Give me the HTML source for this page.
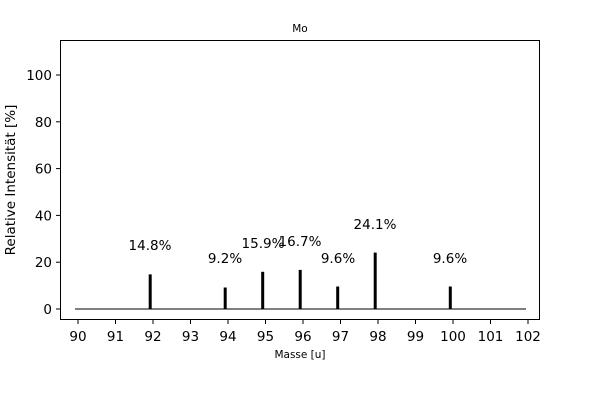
<!DOCTYPE html>
<html><head><meta charset="utf-8"><style>body{margin:0;background:#fff}</style></head><body>
<svg width="600" height="400" xmlns="http://www.w3.org/2000/svg" font-family="DejaVu Sans, Liberation Sans, sans-serif">
<rect width="600" height="400" fill="#fff"/>
<text x="300" y="32" font-size="10.5" text-anchor="middle">Mo</text>
<line x1="75" y1="309" x2="526" y2="309" stroke="#000" stroke-width="1"/>
<g stroke="#000" stroke-width="3">
<line x1="150.2" y1="309" x2="150.2" y2="274.4"/>
<line x1="225.2" y1="309" x2="225.2" y2="287.5"/>
<line x1="262.7" y1="309" x2="262.7" y2="271.8"/>
<line x1="300.2" y1="309" x2="300.2" y2="269.9"/>
<line x1="337.7" y1="309" x2="337.7" y2="286.5"/>
<line x1="375.2" y1="309" x2="375.2" y2="252.6"/>
<line x1="450.3" y1="309" x2="450.3" y2="286.5"/>
</g>
<g font-size="13.5" text-anchor="middle">
<text x="150" y="250">14.8%</text>
<text x="225" y="263">9.2%</text>
<text x="263" y="248">15.9%</text>
<text x="300" y="246">16.7%</text>
<text x="338" y="263">9.6%</text>
<text x="375" y="229">24.1%</text>
<text x="450" y="263">9.6%</text>
</g>
<rect x="60.5" y="40.5" width="479" height="279" fill="none" stroke="#000" stroke-width="1"/>
<g stroke="#000">
<line x1="78" y1="320" x2="78" y2="324"/><line x1="115.5" y1="320" x2="115.5" y2="324"/><line x1="153" y1="320" x2="153" y2="324"/><line x1="190.5" y1="320" x2="190.5" y2="324"/><line x1="228" y1="320" x2="228" y2="324"/><line x1="265.5" y1="320" x2="265.5" y2="324"/><line x1="303" y1="320" x2="303" y2="324"/><line x1="340.5" y1="320" x2="340.5" y2="324"/><line x1="378" y1="320" x2="378" y2="324"/><line x1="415.5" y1="320" x2="415.5" y2="324"/><line x1="453" y1="320" x2="453" y2="324"/><line x1="490.5" y1="320" x2="490.5" y2="324"/><line x1="528" y1="320" x2="528" y2="324"/>
<line x1="56" y1="309" x2="60" y2="309"/><line x1="56" y1="262.2" x2="60" y2="262.2"/><line x1="56" y1="215.4" x2="60" y2="215.4"/><line x1="56" y1="168.6" x2="60" y2="168.6"/><line x1="56" y1="121.8" x2="60" y2="121.8"/><line x1="56" y1="75" x2="60" y2="75"/>
</g>
<g font-size="13.5" text-anchor="middle">
<text x="78" y="341">90</text><text x="115.5" y="341">91</text><text x="153" y="341">92</text><text x="190.5" y="341">93</text><text x="228" y="341">94</text><text x="265.5" y="341">95</text><text x="303" y="341">96</text><text x="340.5" y="341">97</text><text x="378" y="341">98</text><text x="415.5" y="341">99</text><text x="453" y="341">100</text><text x="490.5" y="341">101</text><text x="528" y="341">102</text>
</g>
<g font-size="13.5" text-anchor="end">
<text x="52" y="314">0</text><text x="52" y="267.2">20</text><text x="52" y="220.4">40</text><text x="52" y="173.6">60</text><text x="52" y="126.8">80</text><text x="52" y="80">100</text>
</g>
<text x="300" y="358" font-size="10.5" text-anchor="middle">Masse [u]</text>
<text transform="translate(15,180) rotate(-90)" font-size="13.5" text-anchor="middle">Relative Intensität [%]</text>
</svg>
</body></html>
